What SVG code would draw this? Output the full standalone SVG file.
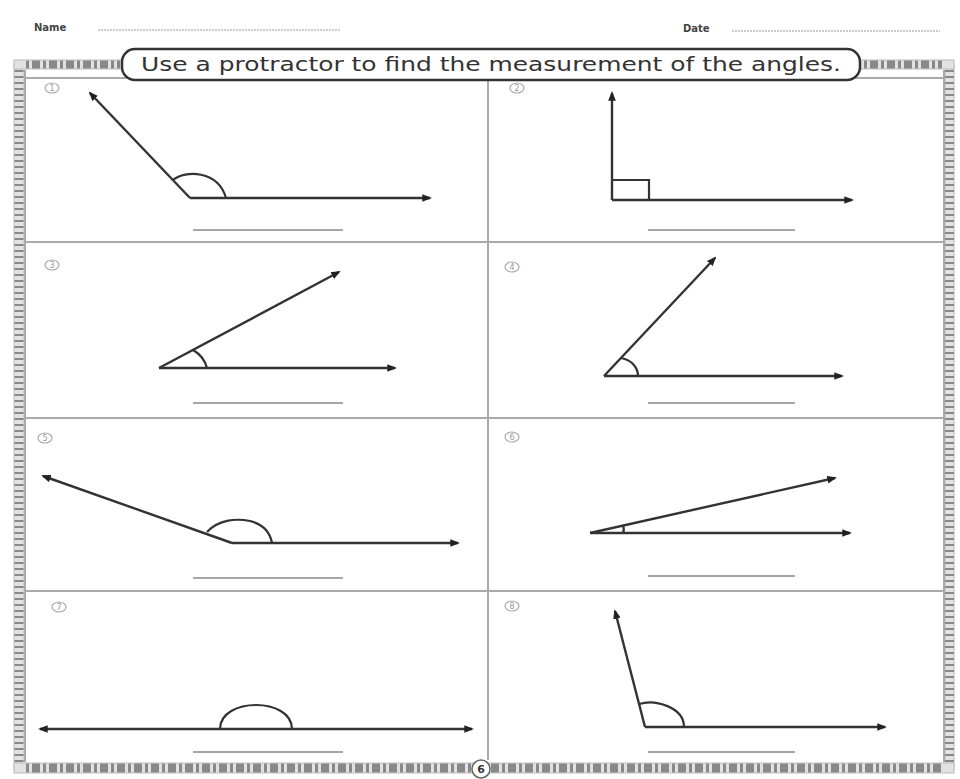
<svg xmlns="http://www.w3.org/2000/svg" width="960" height="779" viewBox="0 0 960 779">
<defs>
<marker id="ah" viewBox="0 0 10 10" refX="8" refY="5" markerWidth="4" markerHeight="4" orient="auto-start-reverse" markerUnits="strokeWidth">
<path d="M0,1 L10,5 L0,9 Z" fill="#222"/>
</marker>
<style>
.ray{stroke:#333;stroke-width:2.4;fill:none;marker-end:url(#ah)}
.arc{stroke:#333;stroke-width:2.2;fill:none}
.ans{stroke:#888;stroke-width:1.5}
.grid{stroke:#aaa;stroke-width:2;fill:none}
.num{font-family:"DejaVu Sans",sans-serif;font-size:8px;fill:#999;text-anchor:middle}
.numc{fill:none;stroke:#aaa;stroke-width:1.2}
.hdr{font-family:"DejaVu Sans",sans-serif;font-size:10px;font-weight:bold;fill:#444}
.strip{fill:#e2e2e2;stroke:#bbb;stroke-width:1}
.tick{stroke:#888;stroke-width:9;stroke-dasharray:2 4}
</style>
</defs>
<rect width="960" height="779" fill="#fff"/>
<g id="header">
<text class="hdr" x="34" y="31">Name</text>
<line x1="98" y1="30" x2="340" y2="30" stroke="#999" stroke-width="1" stroke-dasharray="2 1"/>
<text class="hdr" x="683" y="32">Date</text>
<line x1="732" y1="31" x2="940" y2="31" stroke="#999" stroke-width="1" stroke-dasharray="2 1"/>
</g>
<g id="frame">
<rect class="strip" x="14" y="64" width="10" height="706"/>
<rect class="strip" x="945" y="64" width="9" height="706"/>
<rect class="strip" x="14" y="60" width="108" height="9"/>
<rect class="strip" x="860" y="60" width="94" height="9"/>
<rect class="strip" x="14" y="763" width="940" height="10"/>
<line class="tick" x1="19" y1="70" x2="19" y2="762"/>
<line class="tick" x1="949.5" y1="70" x2="949.5" y2="762"/>
<line x1="26" y1="64.5" x2="120" y2="64.5" stroke="#888" stroke-width="8" stroke-dasharray="3 3 8 3"/>
<line x1="864" y1="64.5" x2="942" y2="64.5" stroke="#888" stroke-width="8" stroke-dasharray="3 3 8 3"/>
<line x1="26" y1="768" x2="944" y2="768" stroke="#888" stroke-width="9" stroke-dasharray="3 3 8 3"/>
<line class="grid" x1="25" y1="78" x2="944" y2="78" stroke="#777"/>
<line class="grid" x1="25" y1="70" x2="25" y2="762"/>
<line class="grid" x1="944" y1="70" x2="944" y2="762"/>
<line class="grid" x1="488" y1="78" x2="488" y2="760"/>
<line class="grid" x1="25" y1="242" x2="944" y2="242"/>
<line class="grid" x1="25" y1="418" x2="944" y2="418"/>
<line class="grid" x1="25" y1="591" x2="944" y2="591"/>
</g>
<g id="title">
<rect x="122" y="49" width="738" height="31" rx="13" fill="#fff" stroke="#333" stroke-width="2.5"/>
<text x="491" y="71" text-anchor="middle" font-family="'DejaVu Sans',sans-serif" font-size="19" fill="#333" textLength="700" lengthAdjust="spacingAndGlyphs">Use a protractor to find the measurement of the angles.</text>
</g>
<g id="page-number">
<circle cx="481" cy="769" r="9" fill="#fff" stroke="#666" stroke-width="1.5"/>
<text x="481" y="773" text-anchor="middle" font-family="'DejaVu Sans',sans-serif" font-size="11" font-weight="bold" fill="#333">6</text>
</g>
<g id="angle-1">
<ellipse class="numc" cx="52" cy="88" rx="7" ry="5"/><text class="num" x="52" y="91">1</text>
<line class="ray" x1="190" y1="198" x2="430" y2="198"/>
<line class="ray" x1="190" y1="198" x2="90" y2="93"/>
<path class="arc" d="M173,180 C185,170 218,170 226,198"/>
<line class="ans" x1="193" y1="230" x2="343" y2="230"/>
</g>
<g id="angle-2">
<ellipse class="numc" cx="517" cy="88" rx="7" ry="5"/><text class="num" x="517" y="91">2</text>
<line class="ray" x1="612" y1="200" x2="852" y2="200"/>
<line class="ray" x1="612" y1="200" x2="612" y2="93"/>
<path class="arc" d="M612,180 H649 V200"/>
<line class="ans" x1="648" y1="230" x2="795" y2="230"/>
</g>
<g id="angle-3">
<ellipse class="numc" cx="52" cy="265" rx="7" ry="5"/><text class="num" x="52" y="268">3</text>
<line class="ray" x1="159" y1="368" x2="395" y2="368"/>
<line class="ray" x1="159" y1="368" x2="339" y2="272"/>
<path class="arc" d="M193,350 C200,354 205,360 207,368"/>
<line class="ans" x1="193" y1="403" x2="343" y2="403"/>
</g>
<g id="angle-4">
<ellipse class="numc" cx="512" cy="267" rx="7" ry="5"/><text class="num" x="512" y="270">4</text>
<line class="ray" x1="604" y1="376" x2="842" y2="376"/>
<line class="ray" x1="604" y1="376" x2="715" y2="258"/>
<path class="arc" d="M621,358 C632,360 638,368 638,376"/>
<line class="ans" x1="648" y1="403" x2="795" y2="403"/>
</g>
<g id="angle-5">
<ellipse class="numc" cx="45" cy="438" rx="7" ry="5"/><text class="num" x="45" y="441">5</text>
<line class="ray" x1="232" y1="543" x2="458" y2="543"/>
<line class="ray" x1="232" y1="543" x2="43" y2="476"/>
<path class="arc" d="M207,532 C218,520 235,518 250,521 C262,524 270,532 272,543"/>
<line class="ans" x1="193" y1="578" x2="343" y2="578"/>
</g>
<g id="angle-6">
<ellipse class="numc" cx="512" cy="437" rx="7" ry="5"/><text class="num" x="512" y="440">6</text>
<line class="ray" x1="590" y1="533" x2="850" y2="533"/>
<line class="ray" x1="590" y1="533" x2="835" y2="478"/>
<path class="arc" d="M623,525 C624,528 624,531 623,533"/>
<line class="ans" x1="648" y1="576" x2="795" y2="576"/>
</g>
<g id="angle-7">
<ellipse class="numc" cx="59" cy="607" rx="7" ry="5"/><text class="num" x="59" y="610">7</text>
<line class="ray" x1="40" y1="729" x2="472" y2="729" style="marker-start:url(#ah)"/>
<path class="arc" d="M220,729 C220,713 238,705 256,705 C274,705 292,713 292,729"/>
<line class="ans" x1="193" y1="752" x2="343" y2="752"/>
</g>
<g id="angle-8">
<ellipse class="numc" cx="512" cy="606" rx="7" ry="5"/><text class="num" x="512" y="609">8</text>
<line class="ray" x1="645" y1="727" x2="885" y2="727"/>
<line class="ray" x1="645" y1="727" x2="615" y2="611"/>
<path class="arc" d="M639,704 C655,699 684,707 684,727"/>
<line class="ans" x1="648" y1="752" x2="795" y2="752"/>
</g>
</svg>
